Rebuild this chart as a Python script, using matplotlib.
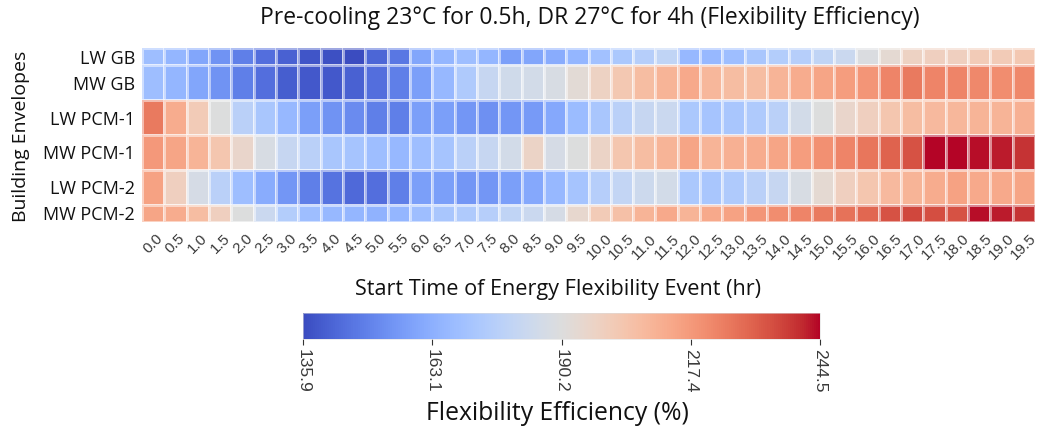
import numpy as np
import matplotlib
matplotlib.use("Agg")
import matplotlib.pyplot as plt

start_times = [f"{h:.1f}" for h in np.arange(0, 20, 0.5)]
envelopes = ["LW GB", "MW GB", "LW PCM-1", "MW PCM-1", "LW PCM-2", "MW PCM-2"]

lw_gb = [168.5, 165.2, 159.8, 154.4, 148.9, 144.6, 141.3, 138.1, 137.0, 135.9,
         142.4, 146.8, 159.8, 165.2, 168.5, 165.2, 157.6, 159.8, 162.0, 165.2,
         169.6, 172.8, 176.1, 179.3, 166.3, 166.3, 168.5, 171.7, 175.0, 176.1,
         179.3, 182.6, 189.1, 193.5, 197.8, 198.9, 198.9, 201.1, 201.1, 202.1]
mw_gb = [168.5, 165.2, 159.8, 154.4, 148.9, 144.6, 140.2, 139.2, 139.2, 141.3,
         144.6, 148.9, 157.6, 166.3, 173.9, 181.5, 184.8, 185.9, 188.0, 192.4,
         197.8, 202.1, 206.5, 209.7, 213.0, 208.7, 206.5, 206.5, 209.7, 211.9,
         214.1, 216.3, 218.4, 222.8, 225.0, 222.8, 222.8, 221.7, 220.6, 221.7]
lw_pcm1 = [225.0, 211.9, 201.1, 190.2, 177.2, 171.7, 166.3, 157.6, 154.4, 152.2,
           148.9, 148.9, 157.6, 157.6, 155.4, 153.3, 155.4, 156.5, 160.9, 167.4,
           171.7, 177.2, 181.5, 182.6, 172.8, 170.7, 171.7, 173.9, 177.2, 185.9,
           190.2, 195.6, 198.9, 203.2, 206.5, 207.6, 208.7, 209.7, 209.7, 210.8]
mw_pcm1 = [217.4, 214.1, 209.7, 203.2, 195.6, 188.0, 181.5, 177.2, 171.7, 170.7,
           168.5, 166.3, 168.5, 170.7, 177.2, 181.5, 185.9, 196.7, 186.9, 190.2,
           196.7, 203.2, 206.5, 209.7, 214.1, 209.7, 210.8, 211.9, 214.1, 216.3,
           219.5, 222.8, 226.0, 230.4, 233.6, 244.5, 244.5, 243.4, 242.3, 239.1]
lw_pcm2 = [215.2, 198.9, 186.9, 177.2, 168.5, 162.0, 155.4, 148.9, 145.7, 143.5,
           144.6, 148.9, 157.6, 157.6, 155.4, 155.4, 157.6, 160.9, 166.3, 170.7,
           176.1, 180.4, 183.7, 185.9, 172.8, 171.7, 173.9, 177.2, 181.5, 188.0,
           193.5, 198.9, 203.2, 207.6, 209.7, 211.9, 215.2, 213.0, 213.0, 214.1]
mw_pcm2 = [214.1, 211.9, 206.5, 198.9, 190.2, 182.6, 175.0, 168.5, 166.3, 165.2,
           164.1, 165.2, 168.5, 171.7, 173.9, 176.1, 179.3, 182.6, 186.9, 194.5,
           201.1, 205.4, 209.7, 213.0, 209.7, 213.0, 215.2, 218.4, 220.6, 222.8,
           225.0, 227.1, 229.3, 233.6, 235.8, 234.7, 233.6, 243.4, 242.3, 239.1]

cbar_ticks = [135.9, 163.1, 190.2, 217.4, 244.5]
vmin, vmax = 135.9, 244.5

data = np.array([lw_gb, mw_gb, lw_pcm1, mw_pcm1, lw_pcm2, mw_pcm2])

label_font = "Open Sans"
tick_font = "Liberation Sans"

fig = plt.figure(figsize=(10.38, 4.33), dpi=100)
ax = fig.add_axes([142/1038, 1 - 222/433, (1035-142)/1038, (222-48)/433])

ncol = data.shape[1]
x_edges = np.arange(ncol + 1)
# first and last rows are shown as half rows (as in the reference)
y_edges = np.array([0.0, 0.5, 1.5, 2.5, 3.5, 4.5, 5.0])
mesh = ax.pcolormesh(x_edges, y_edges, data, cmap="coolwarm", vmin=vmin, vmax=vmax,
                     edgecolors=(1, 1, 1, 0.5), linewidth=0.9)
ax.set_xlim(0, ncol)
ax.set_ylim(5.0, 0.0)
for s in ax.spines.values():
    s.set_visible(False)

ax.set_xticks(np.arange(ncol) + 0.5)
ax.set_xticklabels(start_times, rotation=45, ha="center", fontsize=11,
                   family=tick_font, color="#3a3a3a")
ax.set_yticks((y_edges[:-1] + y_edges[1:]) / 2)
ax.set_yticklabels(envelopes, fontsize=13, family=label_font, color="#111111")
ax.tick_params(axis="x", length=0, pad=7)
ax.tick_params(axis="y", length=0, pad=5)

fig.text(590/1038, 1 - 18/433,
         "Pre-cooling 23°C for 0.5h, DR 27°C for 4h (Flexibility Efficiency)",
         ha="center", va="center", fontsize=16.5, family=label_font, color="#111111")
fig.text(21/1038, 1 - 136/433, "Building Envelopes", rotation=90, ha="center",
         va="center", fontsize=14, family=label_font, color="#111111")
fig.text(558/1038, 1 - 290/433, "Start Time of Energy Flexibility Event (hr)",
         ha="center", va="center", fontsize=15.6, family=label_font, color="#111111")

cax = fig.add_axes([303/1038, 1 - 339/433, (820-303)/1038, 26/433])
cb = fig.colorbar(mesh, cax=cax, orientation="horizontal", ticks=cbar_ticks)
cb.outline.set_linewidth(0.4)
cb.outline.set_edgecolor("#dddddd")
cax.tick_params(axis="x", length=4, width=0.8, color="#333333", pad=3)
cax.set_xticklabels([f"{t:.1f}" for t in cbar_ticks], rotation=-90,
                    fontsize=12.5, family=tick_font, color="#3a3a3a")
fig.text(557/1038, 1 - 413/433, "Flexibility Efficiency (%)", ha="center",
         va="center", fontsize=17.8, family=label_font, color="#111111")

fig.savefig("out.png", dpi=100)
